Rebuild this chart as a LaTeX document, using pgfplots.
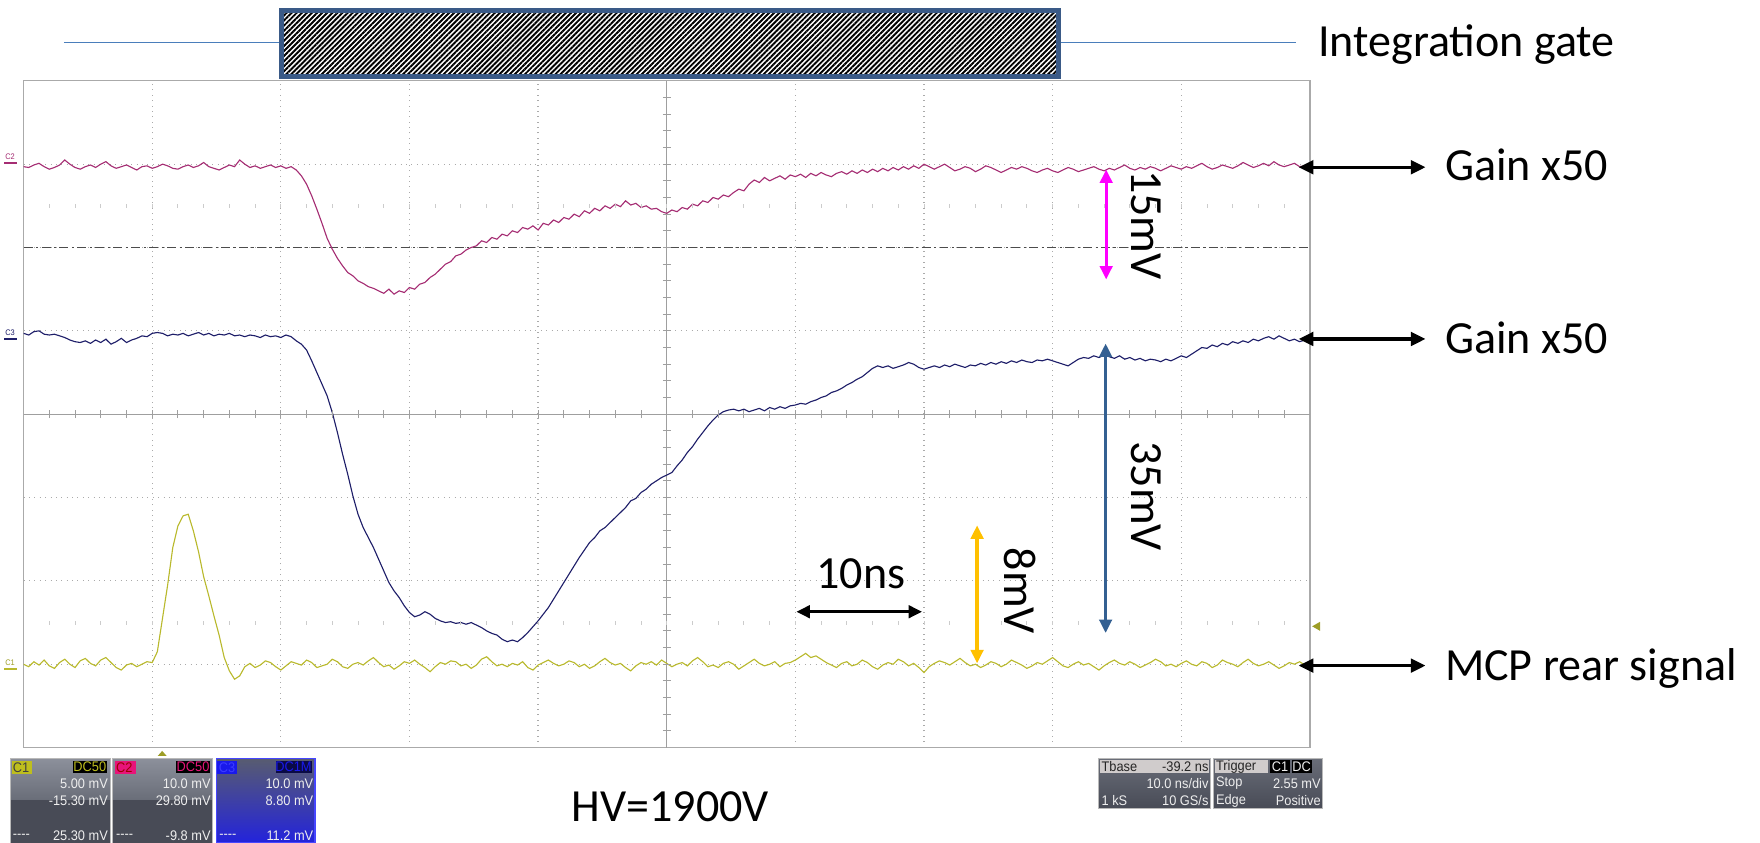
\documentclass[border=0pt]{standalone}
\usepackage{fontspec}
\setmainfont{Carlito}
\newfontfamily\scopefont[FakeStretch=0.92]{Liberation Sans}
\usepackage{pgfplots}
\usepackage{pgfplotstable}
\pgfplotsset{compat=1.18}
\usetikzlibrary{arrows.meta,patterns.meta}

\definecolor{ctwo}{RGB}{165,45,115}
\definecolor{cthree}{RGB}{30,30,105}
\definecolor{cone}{RGB}{185,185,45}
\definecolor{gateblue}{RGB}{58,90,135}
\definecolor{lineblue}{RGB}{74,126,187}
\definecolor{arrblue}{RGB}{52,96,146}
\definecolor{arrorange}{RGB}{255,192,0}
\definecolor{arrmag}{RGB}{255,0,255}
\definecolor{gridgray}{RGB}{170,170,170}
\definecolor{boxtop}{RGB}{140,144,155}
\definecolor{boxmid}{RGB}{105,109,120}
\definecolor{boxdark}{RGB}{72,75,86}
\definecolor{boxtxt}{RGB}{238,238,238}
\definecolor{yelsq}{RGB}{190,190,30}
\definecolor{pinksq}{RGB}{232,20,122}
\definecolor{bluesq}{RGB}{25,25,235}
\definecolor{bluetop}{RGB}{88,92,112}
\definecolor{bluemid}{RGB}{62,64,120}
\definecolor{bluebot}{RGB}{35,35,220}
\definecolor{blueedge}{RGB}{70,70,255}
\definecolor{bluetxt}{RGB}{60,60,255}
\definecolor{navybadge}{RGB}{10,10,70}
\definecolor{hdrgray}{RGB}{208,204,204}

\newcommand\lbl{\fontsize{20.5}{24}\selectfont}
\newcommand\sfnt{\scopefont\fontsize{6.2}{7}\selectfont}
\newcommand\tinyfnt{\scopefont\fontsize{3.6}{4}\selectfont}

% C1 trace (MCP rear signal), divisions, sampled every 0.04 div
\pgfplotstableread[header=false,row sep=\\]{
1.00\\0.97\\1.03\\0.99\\1.05\\0.98\\0.95\\1.02\\1.06\\1.00\\
0.96\\1.04\\1.07\\1.01\\0.98\\1.05\\1.08\\1.02\\0.96\\0.93\\
0.99\\1.01\\0.97\\1.00\\1.03\\
1.02\\1.15\\1.55\\1.95\\2.40\\2.66\\2.78\\2.80\\2.60\\2.35\\
2.05\\1.82\\1.58\\1.35\\1.08\\0.92\\0.82\\0.86\\0.97\\
1.01\\0.96\\0.99\\1.04\\1.02\\0.97\\0.93\\0.98\\1.03\\1.01\\
0.99\\1.05\\1.02\\0.96\\0.98\\1.00\\1.06\\1.03\\0.97\\0.95\\
1.00\\1.02\\0.99\\1.04\\1.08\\1.02\\0.97\\0.99\\0.94\\0.98\\
1.03\\1.01\\1.05\\1.00\\0.96\\0.91\\0.97\\1.02\\1.00\\1.04\\
1.03\\0.98\\1.00\\0.95\\0.99\\1.06\\1.09\\1.03\\0.98\\1.00\\
0.97\\1.01\\0.99\\1.03\\0.96\\0.93\\0.99\\1.02\\1.05\\1.01\\
0.98\\1.00\\1.04\\1.02\\0.97\\1.00\\0.95\\0.98\\1.03\\1.07\\
1.02\\0.99\\1.01\\0.96\\0.92\\0.98\\1.02\\1.00\\1.03\\0.99\\
1.05\\1.01\\0.97\\1.00\\1.02\\0.98\\1.04\\1.08\\1.03\\0.97\\
0.99\\0.96\\1.01\\1.03\\1.00\\0.94\\0.98\\1.02\\1.06\\1.01\\
0.98\\1.00\\1.03\\0.97\\1.01\\1.02\\
1.05\\1.09\\1.13\\1.08\\1.10\\1.06\\1.02\\
0.99\\0.96\\1.01\\1.03\\0.98\\1.00\\1.05\\1.02\\0.97\\0.94\\
0.99\\1.02\\1.00\\1.06\\1.03\\0.98\\1.01\\0.96\\0.90\\0.97\\
1.01\\1.04\\1.02\\0.99\\1.03\\1.07\\1.02\\0.98\\1.00\\0.96\\
0.99\\1.03\\1.01\\0.97\\1.00\\1.05\\1.02\\0.99\\0.95\\0.98\\
1.02\\1.00\\1.04\\1.08\\1.03\\0.98\\0.96\\1.00\\1.03\\0.99\\
1.01\\0.97\\0.93\\0.98\\1.02\\1.05\\1.01\\0.99\\1.03\\1.00\\
0.96\\0.99\\1.02\\1.06\\1.03\\0.98\\1.00\\0.97\\1.01\\1.04\\
1.00\\0.98\\1.03\\1.01\\0.96\\0.99\\1.05\\1.02\\1.00\\0.97\\
1.02\\1.06\\1.01\\0.98\\1.00\\1.03\\0.99\\0.95\\0.98\\1.02\\
1.00\\1.03\\0.99\\1.01\\
}\conedata

% C2 trace
\pgfplotstableread[header=false,row sep=\\]{
6.97\\6.96\\6.99\\7.01\\6.97\\6.94\\6.96\\6.99\\7.05\\7.00\\
6.96\\6.94\\6.97\\6.99\\6.96\\7.00\\7.03\\6.98\\6.95\\6.97\\
6.99\\6.96\\6.93\\6.97\\6.98\\6.95\\6.97\\7.00\\6.98\\6.95\\
6.94\\6.97\\6.99\\6.96\\6.98\\7.02\\6.97\\6.95\\6.93\\6.96\\
6.99\\6.97\\7.05\\7.00\\6.96\\6.98\\6.95\\6.97\\6.99\\6.96\\
6.98\\6.95\\6.97\\
6.93\\6.86\\6.76\\6.62\\6.46\\6.29\\6.11\\5.98\\5.87\\5.78\\
5.70\\5.66\\5.60\\5.57\\5.53\\5.51\\5.48\\5.45\\5.50\\5.44\\
5.48\\5.46\\5.52\\
5.50\\5.56\\5.58\\5.64\\5.68\\5.74\\5.80\\5.83\\5.90\\5.92\\
5.97\\6.00\\6.02\\6.08\\6.06\\6.12\\6.10\\6.16\\6.14\\6.20\\
6.18\\6.24\\6.22\\6.26\\6.21\\
6.29\\6.27\\6.33\\6.30\\6.36\\6.34\\6.40\\6.37\\6.44\\6.41\\
6.47\\6.44\\6.50\\6.47\\6.52\\6.49\\6.56\\6.51\\6.53\\6.48\\
6.50\\6.46\\6.47\\6.43\\6.41\\
6.45\\6.43\\6.48\\6.46\\6.52\\6.50\\6.56\\6.54\\6.60\\6.58\\
6.63\\6.61\\6.66\\6.70\\6.68\\6.76\\6.81\\6.78\\6.84\\6.80\\
6.83\\6.86\\6.82\\6.87\\6.85\\
6.88\\6.84\\6.89\\6.86\\6.90\\6.87\\6.85\\6.89\\6.91\\6.88\\
6.92\\6.89\\6.93\\6.90\\6.94\\6.91\\6.95\\6.92\\6.96\\6.93\\
6.97\\6.94\\6.98\\6.95\\7.00\\
6.97\\6.94\\6.97\\7.00\\6.96\\6.92\\6.94\\6.97\\6.95\\6.91\\
6.94\\6.98\\6.96\\6.93\\6.90\\6.93\\6.96\\6.94\\6.97\\6.95\\
6.92\\6.90\\6.93\\6.95\\6.92\\
6.90\\6.93\\6.96\\6.94\\6.91\\6.93\\6.95\\6.97\\6.94\\6.92\\
6.95\\6.93\\6.96\\6.99\\6.95\\6.93\\6.96\\6.94\\6.97\\6.95\\
6.92\\6.95\\6.98\\6.96\\6.94\\
6.97\\6.95\\6.98\\7.01\\6.97\\6.94\\6.96\\6.99\\6.97\\6.95\\
6.98\\7.02\\6.99\\6.96\\6.98\\7.01\\6.98\\7.03\\6.99\\6.97\\
6.99\\7.01\\6.97\\6.98\\6.96\\
}\ctwodata

% C3 trace
\pgfplotstableread[header=false,row sep=\\]{
4.97\\4.95\\4.99\\5.00\\4.96\\4.95\\4.96\\4.94\\4.92\\4.89\\
4.87\\4.86\\4.88\\4.85\\4.89\\4.86\\4.90\\4.84\\4.87\\4.91\\
4.86\\4.89\\4.91\\4.94\\4.93\\
4.97\\4.98\\4.97\\4.94\\4.96\\4.95\\4.97\\4.94\\4.96\\4.98\\
4.95\\4.97\\4.94\\4.96\\4.95\\4.97\\4.94\\4.95\\4.93\\4.95\\
4.94\\4.92\\4.95\\4.93\\4.94\\
4.92\\4.95\\4.93\\
4.88\\4.84\\4.77\\4.64\\4.50\\4.36\\4.22\\4.02\\3.78\\3.52\\
3.28\\3.02\\2.80\\2.64\\2.52\\2.40\\2.26\\2.12\\1.98\\1.88\\
1.80\\1.70\\1.62\\
1.57\\1.59\\1.63\\1.60\\1.55\\1.52\\1.50\\1.51\\1.49\\1.50\\
1.48\\1.50\\1.47\\1.44\\1.40\\1.37\\1.35\\1.30\\1.27\\1.29\\
1.27\\1.32\\1.38\\1.45\\1.52\\
1.60\\1.68\\1.78\\1.88\\1.98\\2.08\\2.18\\2.28\\2.37\\2.46\\
2.52\\2.60\\2.64\\2.70\\2.76\\2.82\\2.88\\2.96\\2.99\\3.06\\
3.10\\3.16\\3.20\\3.24\\3.27\\
3.30\\3.38\\3.45\\3.54\\3.61\\3.70\\3.78\\3.86\\3.93\\3.99\\
4.03\\4.05\\4.06\\4.04\\4.06\\4.03\\4.05\\4.07\\4.04\\4.08\\
4.06\\4.09\\4.07\\4.10\\4.11\\
4.13\\4.12\\4.15\\4.17\\4.20\\4.22\\4.26\\4.28\\4.31\\4.35\\
4.38\\4.42\\4.45\\4.50\\4.55\\4.58\\4.56\\4.58\\4.55\\4.57\\
4.59\\4.62\\4.60\\4.56\\4.54\\
4.56\\4.58\\4.56\\4.59\\4.57\\4.60\\4.58\\4.56\\4.59\\4.58\\
4.61\\4.59\\4.62\\4.60\\4.63\\4.61\\4.64\\4.62\\4.65\\4.63\\
4.62\\4.65\\4.64\\4.66\\4.64\\
4.62\\4.60\\4.58\\4.62\\4.66\\4.68\\4.67\\4.70\\4.68\\4.71\\
4.69\\4.67\\4.70\\4.66\\4.68\\4.65\\4.67\\4.64\\4.66\\4.65\\
4.63\\4.66\\4.64\\4.67\\4.70\\
4.68\\4.72\\4.76\\4.80\\4.79\\4.83\\4.81\\4.85\\4.83\\4.87\\
4.85\\4.88\\4.86\\4.90\\4.88\\4.91\\4.93\\4.90\\4.94\\4.91\\
4.88\\4.90\\4.87\\4.89\\4.87\\
}\cthreedata

\begin{document}
\begin{tikzpicture}[x=0.5pt,y=0.5pt]
\useasboundingbox (0,0) rectangle (1568,751);

% ---- integration gate ----
\draw[lineblue, line width=0.7pt] (57,713) -- (249,713);
\draw[lineblue, line width=0.7pt] (945,713) -- (1155,713);
\fill[white] (250.8,682.5) rectangle (942.8,741.4);
\path[pattern={Lines[angle=45,distance=1.6pt,line width=0.85pt]}, pattern color=black]
  (250.8,682.5) rectangle (942.8,741.4);
\draw[gateblue, line width=2.25pt] (250.8,682.5) rectangle (942.8,741.4);
\node[font=\lbl, anchor=base west, inner sep=0] at (1174,701) {Integration gate};

% ---- oscilloscope screen ----
\begin{axis}[
  at={(10.5pt,42.5pt)}, anchor=south west,
  width=573pt, height=297pt, scale only axis,
  xmin=0, xmax=10, ymin=0, ymax=8,
  xtick={0,...,10}, ytick={0,...,8},
  xticklabels={}, yticklabels={},
  major tick length=0pt,
  grid=major,
  major grid style={gridgray, dotted, line width=0.55pt},
  axis line style={gridgray, line width=0.6pt},
]
\draw[gray!75, line width=0.5pt] (axis cs:5,0) -- (axis cs:5,8);
\draw[gray!75, line width=0.5pt] (axis cs:0,4) -- (axis cs:10,4);
\draw[black!70, line width=0.6pt, dash pattern=on 4pt off 1.5pt on 1pt off 1.5pt]
  (axis cs:0,6) -- (axis cs:10,6);
\addplot[ctwo, line width=0.5pt, no markers] table[x expr=\coordindex*0.04, y index=0] {\ctwodata};
\addplot[cthree, line width=0.5pt, no markers] table[x expr=\coordindex*0.04, y index=0] {\cthreedata};
\addplot[cone, line width=0.5pt, no markers] table[x expr=\coordindex*0.04, y index=0] {\conedata};
\end{axis}

% minor ticks on centre cross and faint dot rows
\foreach \k in {1,...,49} {
  \draw[gray!75, line width=0.45pt] ({21+22.92*\k},378.5) -- ({21+22.92*\k},385.5);
  \draw[gray!40, line width=0.45pt] ({21+22.92*\k},566) -- ({21+22.92*\k},569.5);
  \draw[gray!40, line width=0.45pt] ({21+22.92*\k},194.5) -- ({21+22.92*\k},198);
}
\foreach \k in {1,...,39} {
  \draw[gray!75, line width=0.45pt] (590.5,{85+14.85*\k}) -- (597.5,{85+14.85*\k});
}

% channel markers
\node[font=\tinyfnt, text=ctwo, inner sep=0] at (9,611) {C2};
\draw[ctwo, line width=1pt] (4,606) -- (15,606);
\node[font=\tinyfnt, text=cthree, inner sep=0] at (9,455) {C3};
\draw[cthree, line width=1pt] (4,449) -- (15,449);
\node[font=\tinyfnt, text=cone!85!black, inner sep=0] at (9,161) {C1};
\draw[cone, line width=1pt] (4,155) -- (15,155);
\fill[cone!85!black] (140.5,77.5) -- (148.5,77.5) -- (144.5,82) -- cycle;
\fill[cone!85!black] (1169,193) -- (1176,197) -- (1176,189) -- cycle;

% ---- right-hand arrows and labels ----
\draw[{Triangle[length=6.5pt,width=6pt]}-{Triangle[length=6.5pt,width=6pt]}, line width=1.5pt]
  (1157,602) -- (1270,602);
\node[font=\lbl, anchor=base west, inner sep=0] at (1287,590.5) {Gain x50};
\draw[{Triangle[length=6.5pt,width=6pt]}-{Triangle[length=6.5pt,width=6pt]}, line width=1.5pt]
  (1157,449) -- (1270,449);
\node[font=\lbl, anchor=base west, inner sep=0] at (1287,436.5) {Gain x50};
\draw[{Triangle[length=6.5pt,width=6pt]}-{Triangle[length=6.5pt,width=6pt]}, line width=1.5pt]
  (1157,158) -- (1270,158);
\node[font=\lbl, anchor=base west, inner sep=0] at (1287,145) {MCP rear signal};

% ---- amplitude and time annotations ----
\draw[arrmag, {Triangle[length=6pt,width=5.5pt]}-{Triangle[length=6pt,width=5.5pt]}, line width=1.5pt]
  (985.5,600) -- (985.5,502);
\node[font=\lbl, rotate=-90, inner sep=0] at (1021,550.5) {15mV};
\draw[arrblue, {Triangle[length=6pt,width=5.5pt]}-{Triangle[length=6pt,width=5.5pt]}, line width=1.5pt]
  (985,445) -- (985,187);
\node[font=\lbl, rotate=-90, inner sep=0] at (1021,309) {35mV};
\draw[arrorange, {Triangle[length=6pt,width=5.5pt]}-{Triangle[length=6pt,width=5.5pt]}, line width=1.5pt]
  (870.5,283) -- (870.5,160);
\node[font=\lbl, rotate=-90, inner sep=0] at (909,224.5) {8mV};
\draw[{Triangle[length=6pt,width=5.5pt]}-{Triangle[length=6pt,width=5.5pt]}, line width=1.5pt]
  (709.5,206) -- (821.5,206);
\node[font=\lbl, inner sep=0] at (767,239.5) {10ns};
\node[font=\lbl, anchor=base west, inner sep=0] at (509,19) {HV=1900V};

% ---- scope info boxes, bottom left ----
% C1
\shade[top color=boxtop, bottom color=boxmid] (9,38) rectangle (98,75.4);
\fill[boxdark] (9,0) rectangle (98,38);
\draw[gray!55, line width=0.4pt] (9,0) rectangle (98,75.4);
\fill[yelsq] (10.4,61.4) rectangle (28.8,73.3);
\node[font=\sfnt, text=black!75, anchor=west, inner sep=0] at (11,67.3) {C1};
\fill[black] (64.7,62) rectangle (95.6,73);
\node[font=\sfnt, text=yelsq, anchor=east, inner sep=0] at (95,67.5) {DC50};
\node[font=\sfnt, text=boxtxt, anchor=east, inner sep=0] at (96.5,52.5) {5.00 mV};
\node[font=\sfnt, text=boxtxt, anchor=east, inner sep=0] at (96.5,37.6) {-15.30 mV};
\node[font=\sfnt, text=boxtxt, anchor=west, inner sep=0] at (11,6.2) {-{}-{}-{}-};
\node[font=\sfnt, text=boxtxt, anchor=east, inner sep=0] at (96.5,6.2) {25.30 mV};
% C2
\shade[top color=boxtop, bottom color=boxmid] (100.4,38) rectangle (189.5,75.4);
\fill[boxdark] (100.4,0) rectangle (189.5,38);
\draw[gray!55, line width=0.4pt] (100.4,0) rectangle (189.5,75.4);
\fill[pinksq] (102.5,61.4) rectangle (121,73.3);
\node[font=\sfnt, text=red!60!black, anchor=west, inner sep=0] at (103,67.3) {C2};
\fill[black] (157,62) rectangle (187.5,73);
\node[font=\sfnt, text=pinksq, anchor=east, inner sep=0] at (187,67.5) {DC50};
\node[font=\sfnt, text=boxtxt, anchor=east, inner sep=0] at (188,52.5) {10.0 mV};
\node[font=\sfnt, text=boxtxt, anchor=east, inner sep=0] at (188,37.6) {29.80 mV};
\node[font=\sfnt, text=boxtxt, anchor=west, inner sep=0] at (103,6.2) {-{}-{}-{}-};
\node[font=\sfnt, text=boxtxt, anchor=east, inner sep=0] at (188,6.2) {-9.8 mV};
% C3
\shade[top color=bluetop, middle color=bluemid, bottom color=bluebot] (192.5,0) rectangle (280.6,75.4);
\draw[blueedge, line width=0.5pt] (192.5,0) rectangle (280.6,75.4);
\fill[bluesq] (193.7,61.4) rectangle (211,73.3);
\node[font=\sfnt, text=bluetxt, anchor=west, inner sep=0] at (194.5,67.3) {C3};
\fill[navybadge] (245.8,62) rectangle (278.4,73);
\node[font=\sfnt, text=bluesq, anchor=east, inner sep=0] at (278,67.5) {DC1M};
\node[font=\sfnt, text=boxtxt, anchor=east, inner sep=0] at (279.5,52.5) {10.0 mV};
\node[font=\sfnt, text=boxtxt, anchor=east, inner sep=0] at (279.5,37.6) {8.80 mV};
\node[font=\sfnt, text=boxtxt, anchor=west, inner sep=0] at (195,6.2) {-{}-{}-{}-};
\node[font=\sfnt, text=boxtxt, anchor=east, inner sep=0] at (279.5,6.2) {11.2 mV};

% ---- scope info boxes, bottom right ----
\shade[top color=boxmid, bottom color=boxdark] (978.5,30.8) rectangle (1078.6,75.4);
\draw[gray!55, line width=0.4pt] (978.5,30.8) rectangle (1078.6,75.4);
\fill[hdrgray] (980,62) rectangle (1077,74);
\node[font=\sfnt, text=black!85, anchor=west, inner sep=0] at (981,68) {Tbase};
\node[font=\sfnt, text=black!85, anchor=east, inner sep=0] at (1077,68) {-39.2 ns};
\node[font=\sfnt, text=boxtxt, anchor=east, inner sep=0] at (1077,53) {10.0 ns/div};
\node[font=\sfnt, text=boxtxt, anchor=west, inner sep=0] at (981,37.6) {1 kS};
\node[font=\sfnt, text=boxtxt, anchor=east, inner sep=0] at (1077,37.6) {10 GS/s};
\shade[top color=boxmid, bottom color=boxdark] (1081,30.8) rectangle (1178,75.4);
\draw[gray!55, line width=0.4pt] (1081,30.8) rectangle (1178,75.4);
\fill[hdrgray] (1082,62) rectangle (1130,74);
\node[font=\sfnt, text=black!85, anchor=west, inner sep=0] at (1083,68) {Trigger};
\fill[black] (1131.5,62) rectangle (1149.3,74);
\node[font=\sfnt, text=boxtxt, inner sep=0] at (1140.4,68) {C1};
\fill[black] (1150.8,62) rectangle (1168.6,74);
\node[font=\sfnt, text=boxtxt, inner sep=0] at (1159.7,68) {DC};
\node[font=\sfnt, text=boxtxt, anchor=west, inner sep=0] at (1083,53) {Stop};
\node[font=\sfnt, text=boxtxt, anchor=east, inner sep=0] at (1177,53) {2.55 mV};
\node[font=\sfnt, text=boxtxt, anchor=west, inner sep=0] at (1083,37.6) {Edge};
\node[font=\sfnt, text=boxtxt, anchor=east, inner sep=0] at (1177,37.6) {Positive};
\end{tikzpicture}
\end{document}
